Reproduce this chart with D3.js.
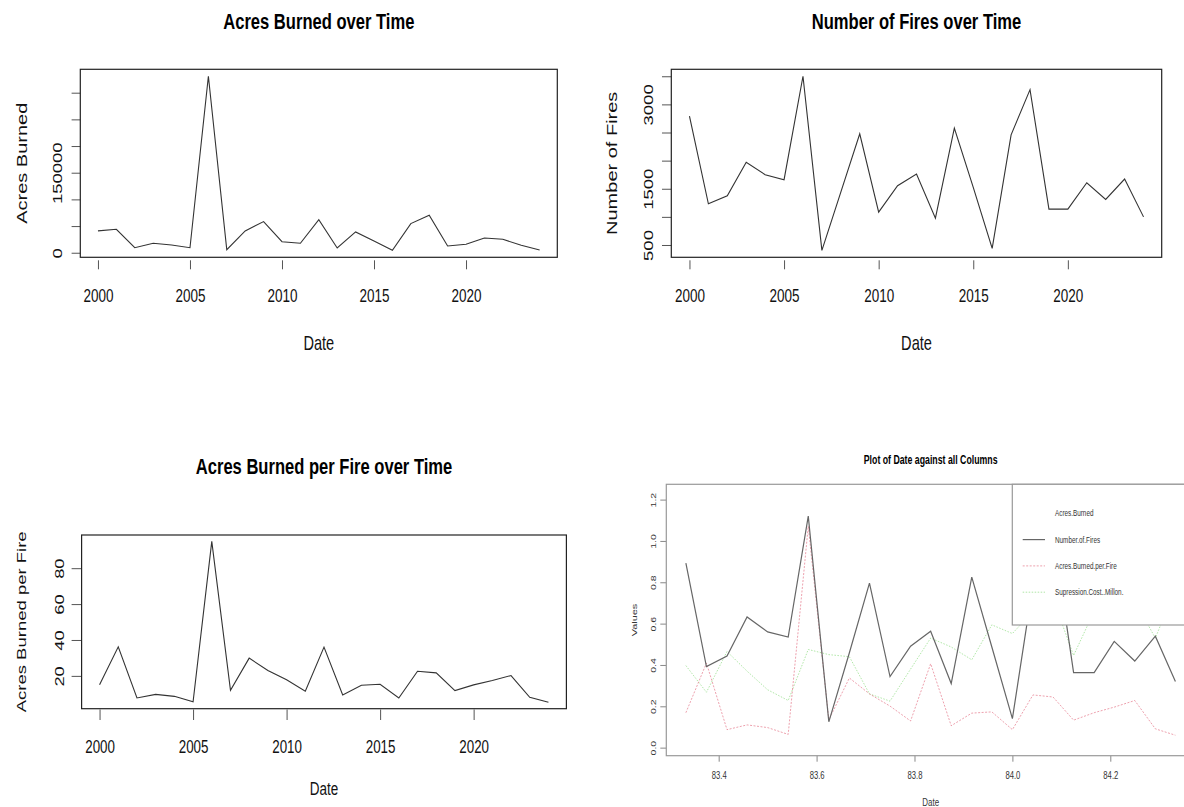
<!DOCTYPE html>
<html><head><meta charset="utf-8">
<script src="https://cdn.jsdelivr.net/npm/d3@7"></script>
<style>
body{margin:0;background:#fff;}
svg{display:block;font-family:"Liberation Sans",Arial,Helvetica,sans-serif;}
</style></head><body>
<svg id="c" width="1184" height="807"></svg>
<script>
// ---------- data ----------
const years = [2000,2001,2002,2003,2004,2005,2006,2007,2008,2009,2010,2011,2012,2013,2014,2015,2016,2017,2018,2019,2020,2021,2022,2023,2024];
const acresBurned = [40900,44000,9400,17700,14500,9400,330800,5650,40900,58400,20700,17700,62100,8850,39000,22000,4500,54600,70400,12600,15800,27700,25200,13900,5100];
const numberOfFires = [2791,1232,1375,1970,1750,1661,3500,405,1440,2477,1084,1554,1762,977,2577,1523,441,2459,3262,1137,1137,1607,1309,1673,1000];
const acresPerFire = [15.0,36.2,7.7,9.7,8.6,5.6,94.9,12.0,29.9,23.0,17.8,11.4,36.0,9.4,14.8,15.3,7.7,22.6,21.7,11.8,15.0,17.4,20.2,8.1,5.3];
// combined (scaled) plot
const dateNum = [83.333,83.375,83.417,83.458,83.5,83.542,83.583,83.625,83.667,83.708,83.75,83.792,83.833,83.875,83.917,83.958,84.0,84.042,84.083,84.125,84.167,84.208,84.25,84.292,84.333];
const firesScaled = [0.893,0.392,0.443,0.632,0.560,0.535,1.120,0.125,0.459,0.796,0.344,0.491,0.563,0.310,0.825,0.487,0.140,0.788,1.043,0.363,0.363,0.514,0.419,0.539,0.320];
const perFireScaled = [0.169,0.409,0.087,0.110,0.097,0.064,1.071,0.135,0.337,0.260,0.201,0.129,0.406,0.106,0.167,0.173,0.087,0.255,0.245,0.133,0.169,0.196,0.228,0.091,0.060];
const costScaled = [0.397,0.268,0.465,0.370,0.280,0.228,0.475,0.450,0.440,0.260,0.225,0.380,0.530,0.487,0.425,0.594,0.552,0.660,0.720,0.446,0.660,0.700,0.710,0.530,0.770];
const legendLabels = ["Acres.Burned","Number.of.Fires","Acres.Burned.per.Fire","Supression.Cost..Millon."];

// tick values & labels
const yearTicks = [2000,2005,2010,2015,2020];
const p1YTicks = [0,50000,100000,150000,200000,250000,300000];
const p1YLabels = ["0","","","150000","","",""];
const p2YTicks = [500,1000,1500,2000,2500,3000,3500];
const p2YLabels = ["500","","1500","","","3000",""];
const p3YTicks = [20,40,60,80];
const p3YLabels = ["20","40","60","80"];
const p4XTicks = [83.4,83.6,83.8,84.0,84.2];
const p4XLabels = ["83.4","83.6","83.8","84.0","84.2"];
const p4YTicks = [0,0.2,0.4,0.6,0.8,1.0,1.2];
const p4YLabels = ["0.0","0.2","0.4","0.6","0.8","1.0","1.2"];

// ---------- drawing ----------
const svg = d3.select("#c");
const SQ = 0.73; // horizontal condensation of the reference text
function ext(a){const lo=d3.min(a),hi=d3.max(a),r=hi-lo;return [lo-0.04*r,hi+0.04*r];}

function panel(o){
  const g = svg.append("g");
  const x = d3.scaleLinear().domain(o.xdom).range([o.box[0],o.box[1]]);
  const y = d3.scaleLinear().domain(o.ydom).range([o.box[3],o.box[2]]);
  const xa = g.append("g").attr("transform",`translate(0,${o.xTickTop})`)
    .call(d3.axisBottom(x).tickValues(o.xTicks).tickSize(o.xTickLen).tickFormat((d,i)=>o.xLabels[i]));
  xa.select(".domain").remove();
  xa.selectAll(".tick line").attr("stroke",o.tickCol);
  xa.selectAll(".tick text").attr("y",o.xLabBase-o.xTickTop).attr("dy",null)
    .attr("font-size",o.tickFs).attr("fill",o.textCol).attr("transform",`scale(${SQ},1)`);
  const ya = g.append("g").attr("transform",`translate(${o.box[0]},0)`)
    .call(d3.axisLeft(y).tickValues(o.yTicks).tickSize(o.yTickLen).tickFormat((d,i)=>o.yLabels[i]));
  ya.select(".domain").remove();
  ya.selectAll(".tick line").attr("stroke",o.tickCol);
  ya.selectAll(".tick text").attr("x",0).attr("y",0).attr("dy",null)
    .attr("text-anchor","middle").attr("font-size",o.tickFs).attr("fill",o.textCol)
    .attr("transform",`translate(${-o.yLabOff},0) scale(${SQ},1) rotate(-90)`);
  g.append("rect").attr("x",o.box[0]).attr("y",o.box[2])
    .attr("width",o.box[1]-o.box[0]).attr("height",o.box[3]-o.box[2])
    .attr("fill","none").attr("stroke",o.boxCol).attr("stroke-width",1.2);
  o.series.forEach(s=>{
    g.append("path").datum(s.v.map((v,i)=>[o.xs[i],v]))
      .attr("fill","none").attr("stroke",s.col).attr("stroke-width",s.w||1.2)
      .attr("stroke-dasharray",s.dash||null).attr("stroke-opacity",s.op||1)
      .attr("d",d3.line().x(d=>x(d[0])).y(d=>y(d[1])));
  });
  const cx=(o.box[0]+o.box[1])/2, cy=(o.box[2]+o.box[3])/2;
  g.append("text").attr("transform",`translate(${cx},${o.titleBase}) scale(${SQ},1)`)
    .attr("text-anchor","middle").attr("font-weight","bold").attr("font-size",o.titleFs)
    .attr("fill","#000").text(o.title);
  g.append("text").attr("transform",`translate(${cx},${o.xlabBase}) scale(${SQ},1)`)
    .attr("text-anchor","middle").attr("font-size",o.labFs).attr("fill",o.textCol).text(o.xlab);
  g.append("text").attr("transform",`translate(${o.ylabBase},${cy}) scale(${SQ},1) rotate(-90)`)
    .attr("text-anchor","middle").attr("font-size",o.labFs).attr("fill",o.textCol).text(o.ylab);
  return {g,x,y};
}

panel({box:[80.3,557.3,69.3,257.3], xs:years, xdom:ext(years), ydom:ext(acresBurned),
  xTicks:yearTicks, xLabels:yearTicks.map(String), yTicks:p1YTicks, yLabels:p1YLabels,
  xTickTop:260.3, xTickLen:9, xLabBase:301.8, yTickLen:8.7, yLabOff:18.6,
  tickFs:18.5, labFs:20, titleFs:22.7, titleBase:29.3, xlabBase:350, ylabBase:27.3,
  tickCol:"#555", textCol:"#111", boxCol:"#222",
  title:"Acres Burned over Time", xlab:"Date", ylab:"Acres Burned",
  series:[{v:acresBurned,col:"#333",w:1.1}]});

panel({box:[671.3,1161.7,69.3,257.3], xs:years, xdom:ext(years), ydom:ext(numberOfFires),
  xTicks:yearTicks, xLabels:yearTicks.map(String), yTicks:p2YTicks, yLabels:p2YLabels,
  xTickTop:260.3, xTickLen:9, xLabBase:301.8, yTickLen:9.3, yLabOff:18.6,
  tickFs:18.5, labFs:20, titleFs:22.7, titleBase:29.3, xlabBase:350, ylabBase:616.7,
  tickCol:"#555", textCol:"#111", boxCol:"#222",
  title:"Number of Fires over Time", xlab:"Date", ylab:"Number of Fires",
  series:[{v:numberOfFires,col:"#333",w:1.1}]});

panel({box:[81.6,566.4,535,708.7], xs:years, xdom:ext(years), ydom:ext(acresPerFire),
  xTicks:yearTicks, xLabels:yearTicks.map(String), yTicks:p3YTicks, yLabels:p3YLabels,
  xTickTop:709.5, xTickLen:10.5, xLabBase:752.7, yTickLen:10, yLabOff:17.6,
  tickFs:18.3, labFs:18.5, titleFs:22.7, titleBase:474, xlabBase:795, ylabBase:25.7,
  tickCol:"#555", textCol:"#111", boxCol:"#222",
  title:"Acres Burned per Fire over Time", xlab:"Date", ylab:"Acres Burned per Fire",
  series:[{v:acresPerFire,col:"#333",w:1.1}]});

panel({box:[666.3,1195,484.3,755.7], xs:dateNum, xdom:ext(dateNum), ydom:[-0.039,1.274],
  xTicks:p4XTicks, xLabels:p4XLabels, yTicks:p4YTicks, yLabels:p4YLabels,
  xTickTop:755.7, xTickLen:6, xLabBase:778.8, yTickLen:6, yLabOff:10.3,
  tickFs:10.5, labFs:10.9, titleFs:12, titleBase:463.5, xlabBase:806, ylabBase:637.3,
  tickCol:"#888", textCol:"#333", boxCol:"#999",
  title:"Plot of Date against all Columns", xlab:"Date", ylab:"Values",
  series:[
    {v:costScaled,col:"#61D04F",dash:"1.5,1.5",w:1,op:0.5},
    {v:perFireScaled,col:"#DF536B",dash:"2,1.5",w:1,op:0.55},
    {v:firesScaled,col:"#666",w:1.2}
  ]});

// legend (topright, opaque)
const leg = svg.append("g");
leg.append("rect").attr("x",1012.3).attr("y",484.3).attr("width",200).attr("height",625-484.3)
  .attr("fill","#fff").attr("stroke","#999").attr("stroke-width",1.2);
const legStyle = [null,{col:"#666",w:1.2},{col:"#DF536B",dash:"2,1.5",w:1,op:0.55},{col:"#61D04F",dash:"1.5,1.5",w:1,op:0.5}];
legendLabels.forEach((t,i)=>{
  const yy = 513.3 + i*26.3;
  const s = legStyle[i];
  if(s){
    leg.append("line").attr("x1",1022.7).attr("x2",1045).attr("y1",yy).attr("y2",yy)
      .attr("stroke",s.col).attr("stroke-width",s.w).attr("stroke-dasharray",s.dash||null)
      .attr("stroke-opacity",s.op||1);
  }
  leg.append("text").attr("transform",`translate(1055,${yy+3}) scale(${SQ},1)`)
    .attr("font-size",8.7).attr("fill","#333").text(t);
});
</script>
</body></html>
